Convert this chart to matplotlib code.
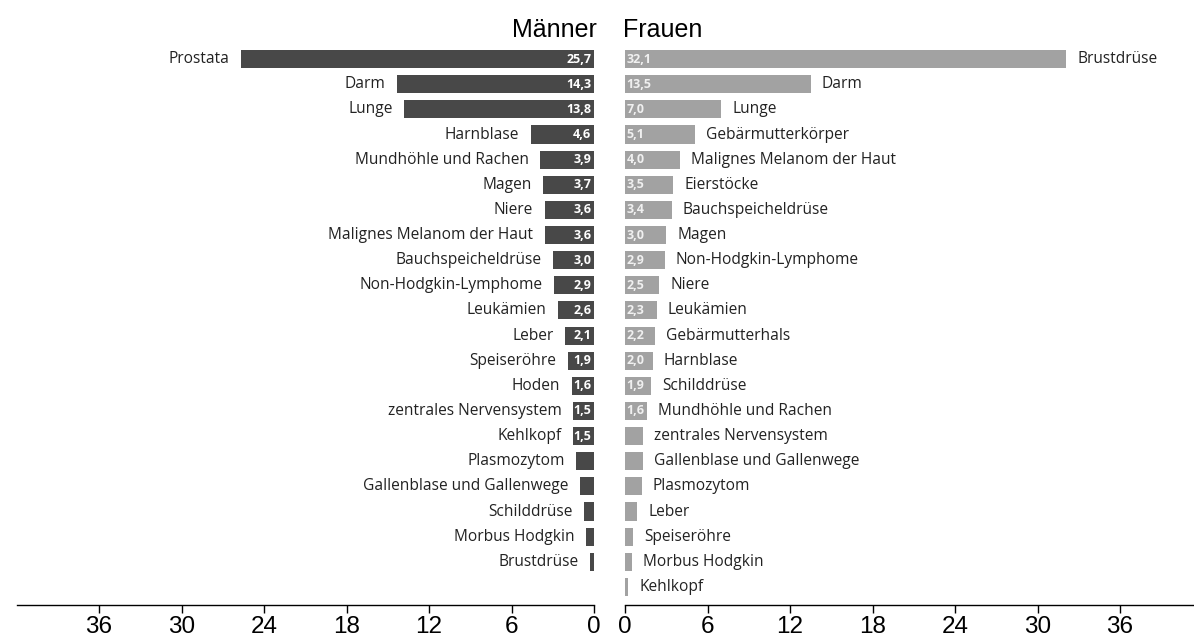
import matplotlib
matplotlib.use("Agg")
import matplotlib.pyplot as plt
import numpy as np

# Männer
men_labels = ["Prostata", "Darm", "Lunge", "Harnblase", "Mundhöhle und Rachen", "Magen",
              "Niere", "Malignes Melanom der Haut", "Bauchspeicheldrüse", "Non-Hodgkin-Lymphome",
              "Leukämien", "Leber", "Speiseröhre", "Hoden", "zentrales Nervensystem", "Kehlkopf",
              "Plasmozytom", "Gallenblase und Gallenwege", "Schilddrüse", "Morbus Hodgkin", "Brustdrüse"]
men_values = [25.7, 14.3, 13.8, 4.6, 3.9, 3.7, 3.6, 3.6, 3.0, 2.9, 2.6, 2.1, 1.9, 1.6, 1.5, 1.5,
              1.3, 1.0, 0.7, 0.55, 0.3]

# Frauen
women_labels = ["Brustdrüse", "Darm", "Lunge", "Gebärmutterkörper", "Malignes Melanom der Haut",
                "Eierstöcke", "Bauchspeicheldrüse", "Magen", "Non-Hodgkin-Lymphome", "Niere",
                "Leukämien", "Gebärmutterhals", "Harnblase", "Schilddrüse", "Mundhöhle und Rachen",
                "zentrales Nervensystem", "Gallenblase und Gallenwege", "Plasmozytom", "Leber",
                "Speiseröhre", "Morbus Hodgkin", "Kehlkopf"]
women_values = [32.1, 13.5, 7.0, 5.1, 4.0, 3.5, 3.4, 3.0, 2.9, 2.5, 2.3, 2.2, 2.0, 1.9, 1.6,
                1.3, 1.3, 1.2, 0.9, 0.6, 0.5, 0.25]

ticks = [0, 6, 12, 18, 24, 30, 36]

W, H = 1194, 637
fig = plt.figure(figsize=(W / 100, H / 100), dpi=100)

men_col = "#484848"
women_col = "#a2a2a2"
lab_font = "Open Sans"
lab_size = 11.2
bar_h = 0.72
ylim = (21.72, -0.76)

ax_m = fig.add_axes([16.5 / W, 32 / H, 577.5 / W, 565 / H])
ax_f = fig.add_axes([625 / W, 32 / H, 569 / W, 565 / H])


def fmt(v):
    return f"{v:.1f}".replace(".", ",")


# left side (Männer)
y = np.arange(len(men_values))
ax_m.barh(y, men_values, height=bar_h, color=men_col)
ax_m.set_xlim(42, 0)
for i, (lab, v) in enumerate(zip(men_labels, men_values)):
    ax_m.text(v + 0.85, i, lab, ha="right", va="center", fontsize=lab_size,
              family=lab_font, color="#222222")
    if v >= 1.45:
        ax_m.text(0.2, i, fmt(v), ha="right", va="center", fontsize=9,
                  family=lab_font, fontweight="bold", color="white")

# right side (Frauen)
y = np.arange(len(women_values))
ax_f.barh(y, women_values, height=bar_h, color=women_col)
ax_f.set_xlim(0, 569 / 13.75)
for i, (lab, v) in enumerate(zip(women_labels, women_values)):
    ax_f.text(v + 0.8, i, lab, ha="left", va="center", fontsize=lab_size,
              family=lab_font, color="#222222")
    if v >= 1.45:
        ax_f.text(0.12, i, fmt(v), ha="left", va="center", fontsize=9,
                  family=lab_font, fontweight="bold", color="#f0f0f0")

for ax in (ax_m, ax_f):
    ax.set_ylim(*ylim)
    for s in ("top", "left", "right"):
        ax.spines[s].set_visible(False)
    ax.spines["bottom"].set_linewidth(1.0)
    ax.set_yticks([])
    ax.set_xticks(ticks)
    ax.tick_params(axis="x", direction="out", length=6, width=1, pad=2, labelsize=17.5)
    for t in ax.get_xticklabels():
        t.set_family("Liberation Sans")
    ax.patch.set_alpha(0)

fig.text(597 / W, 1 - 30 / H, "Männer", ha="right", va="center", fontsize=18,
         family="Liberation Sans")
fig.text(623 / W, 1 - 30 / H, "Frauen", ha="left", va="center", fontsize=18,
         family="Liberation Sans")

fig.savefig("out.png", dpi=100)
